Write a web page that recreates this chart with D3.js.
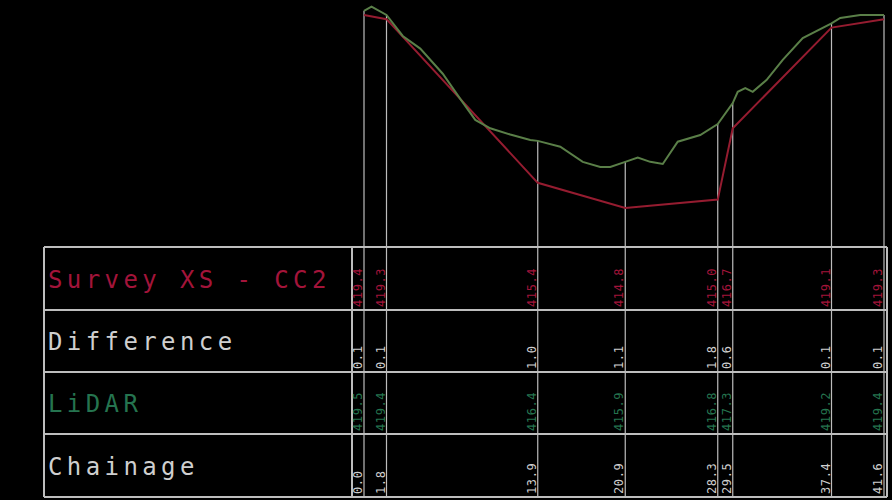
<!DOCTYPE html>
<html>
<head>
<meta charset="utf-8">
<script src="https://cdn.jsdelivr.net/npm/d3@7"></script>
<style>
  html, body { margin: 0; padding: 0; background: #000; }
  svg { display: block; }
</style>
</head>
<body>
<script>
// ---- data ----
const chainage   = [0.0, 1.8, 13.9, 20.9, 28.3, 29.5, 37.4, 41.6];
const surveyXS   = [419.4, 419.3, 415.4, 414.8, 415.0, 416.7, 419.1, 419.3];
const lidarAtCh  = [419.5, 419.4, 416.4, 415.9, 416.8, 417.3, 419.2, 419.4];
const difference = [0.1, 0.1, 1.0, 1.1, 1.8, 0.6, 0.1, 0.1];

// dense LiDAR ground profile
const lidarProfileCh   = [0.0, 0.6, 1.8, 3.1, 4.5, 6.3, 7.7, 8.9, 10.1, 11.7, 13.3, 13.9, 15.7, 17.5, 18.9, 19.7, 20.9, 21.9, 22.9, 23.9, 25.1, 26.9, 28.3, 29.5, 29.9, 30.5, 31.1, 32.2, 33.5, 35.1, 37.4, 38.1, 39.7, 41.6];
const lidarProfileElev = [419.5, 419.6, 419.4, 418.9, 418.6, 418.0, 417.4, 416.9, 416.7, 416.55, 416.42, 416.4, 416.26, 415.9, 415.78, 415.78, 415.9, 416.0, 415.9, 415.85, 416.38, 416.54, 416.8, 417.3, 417.57, 417.66, 417.57, 417.85, 418.33, 418.85, 419.2, 419.33, 419.4, 419.4];

const rowLabels = ["Survey XS - CC2", "Difference", "LiDAR", "Chainage"];

// ---- layout ----
const W = 892, H = 500;
const svg = d3.select("body").append("svg").attr("width", W).attr("height", H)
  .style("background", "#000");

const x = d3.scaleLinear().domain([0, 41.6]).range([364, 884]);
const y = d3.scaleLinear().domain([414.8, 419.4]).range([208, 15]);

const tableLeft = 44, tableRight = 887, labelDiv = 352;
const rowEdges = [247, 310, 372, 434, 497];

const colRed = "#a3143a", colRedLine = "#951c30";
const colGreen = "#25744f", colGreenLine = "#5a7f48";
const colGrey = "#cfcfcf", colLine = "#bdbdbd";

// vertical station lines
svg.append("g").selectAll("line").data(chainage).join("line")
  .attr("x1", d => x(d)).attr("x2", d => x(d))
  .attr("y1", (d, i) => y(Math.max(surveyXS[i], lidarAtCh[i])))
  .attr("y2", rowEdges[rowEdges.length - 1])
  .attr("stroke", colLine).attr("stroke-width", 1.2);

// table grid
const grid = svg.append("g").attr("stroke", colLine).attr("stroke-width", 2).attr("fill", "none");
grid.selectAll("line.h").data(rowEdges).join("line").attr("class", "h")
  .attr("x1", tableLeft).attr("x2", tableRight)
  .attr("y1", d => d).attr("y2", d => d);
grid.append("line").attr("x1", tableLeft).attr("x2", tableLeft)
  .attr("y1", rowEdges[0]).attr("y2", rowEdges[4]);
grid.append("line").attr("x1", labelDiv).attr("x2", labelDiv)
  .attr("y1", rowEdges[0]).attr("y2", rowEdges[4]);
grid.append("line").attr("x1", tableRight).attr("x2", tableRight)
  .attr("y1", rowEdges[0]).attr("y2", rowEdges[4]);

// profile lines
const line = d3.line().x(d => x(d[0])).y(d => y(d[1]));
svg.append("path").datum(chainage.map((c, i) => [c, surveyXS[i]]))
  .attr("d", line).attr("fill", "none").attr("stroke", colRedLine).attr("stroke-width", 2);
svg.append("path").datum(lidarProfileCh.map((c, i) => [c, lidarProfileElev[i]]))
  .attr("d", line).attr("fill", "none").attr("stroke", colGreenLine).attr("stroke-width", 2);

// row labels
const labelColors = [colRed, colGrey, colGreen, colGrey];
svg.append("g").selectAll("text").data(rowLabels).join("text")
  .attr("x", 48)
  .attr("y", (d, i) => (rowEdges[i] + rowEdges[i + 1]) / 2 + 9)
  .attr("fill", (d, i) => labelColors[i])
  .attr("font-family", "DejaVu Sans Mono, monospace")
  .attr("font-size", 24)
  .attr("letter-spacing", 4.4)
  .text(d => d);

// row values (rotated)
const rows = [
  { vals: surveyXS, color: colRed },
  { vals: difference, color: colGrey },
  { vals: lidarAtCh, color: colGreen },
  { vals: chainage, color: colGrey }
];
rows.forEach((r, ri) => {
  const bottom = rowEdges[ri + 1] - 3;
  svg.append("g").selectAll("text").data(r.vals).join("text")
    .attr("transform", (d, i) => `translate(${x(chainage[i]) - 2},${bottom}) rotate(-90)`)
    .attr("fill", r.color)
    .attr("font-family", "DejaVu Sans Mono, monospace")
    .attr("font-size", 12)
    .attr("letter-spacing", 0.6)
    .text(d => d.toFixed(1));
});
</script>
</body>
</html>
